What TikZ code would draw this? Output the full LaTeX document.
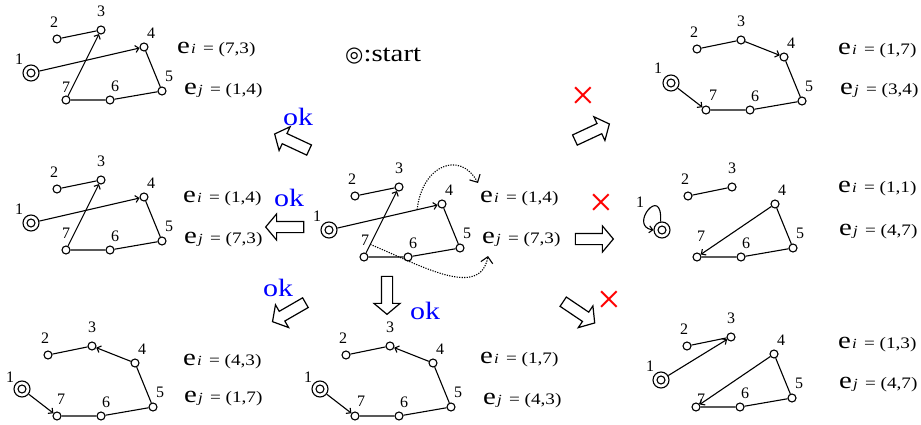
\documentclass[tikz,border=0pt]{standalone}
\usepackage{fontspec}
\usepackage{graphicx}
\setmainfont{Liberation Serif}
\newfontfamily\symfont{DejaVu Sans}
\usetikzlibrary{arrows.meta,shapes.arrows,calc}

\newcommand\wide[1]{\scalebox{1.2}[1]{#1}}

\tikzset{
 vert/.style={circle,draw,line width=1.1pt,minimum size=8pt,inner sep=0pt,fill=white},
 startnode/.style={circle,draw,line width=1.1pt,minimum size=16pt,inner sep=0pt,fill=white,
   path picture={\draw[line width=1.1pt] (path picture bounding box.center) circle (4pt);}},
 num/.style={font=\fontsize{16}{16}\selectfont,inner sep=0pt},
 edgeline/.style={line width=1.1pt},
 darrow/.style={line width=1.1pt,-{Straight Barb[length=3.5pt,width=7pt]}},
 eqtext/.style={anchor=base west,inner sep=0pt},
 okstyle/.style={text=blue,font=\fontsize{25}{25}\selectfont,inner sep=0pt},
 crossstyle/.style={text=red,font=\fontsize{42}{42}\selectfont,inner sep=0pt},
 bigarrow/.style={single arrow,draw,line width=1.2pt,inner xsep=0pt,inner ysep=5pt,
   minimum height=38pt,single arrow head extend=7.5pt,single arrow tip angle=100,
   text height=0pt,text depth=0pt,text width=0pt},
 dotcurve/.style={line width=1.1pt,dash pattern=on 1.2pt off 1.3pt,
   -{Straight Barb[length=6pt,width=12pt]}},
}

% #1,#2 position of node 1; #3 prefix; #4,#5 offset of label 7 from node 7; #6,#7 offset of label 1
\newcommand\graphpanel[7]{%
 \begin{scope}[shift={(#1,#2)}]
 \node[startnode] (#3-1) at (0,0) {};
 \node[vert] (#3-2) at (26,34) {};
 \node[vert] (#3-3) at (70,43) {};
 \node[vert] (#3-4) at (113,26) {};
 \node[vert] (#3-5) at (131,-18) {};
 \node[vert] (#3-6) at (79,-27) {};
 \node[vert] (#3-7) at (35,-27) {};
 \node[num] (#3-l1) at (#6,#7) {1};
 \node[num] (#3-l2) at (23,51) {2};
 \node[num] (#3-l3) at (70,62) {3};
 \node[num] (#3-l4) at (120,40) {4};
 \node[num] (#3-l5) at (138,-3) {5};
 \node[num] (#3-l6) at (84,-13) {6};
 \node[num] (#3-l7) at (35+#4,-27+#5) {7};
 \draw[edgeline] (#3-2) -- (#3-3) (#3-4) -- (#3-5) -- (#3-6) -- (#3-7);
 \end{scope}}

\newcommand\eqn[2]{\wide{{\fontsize{24}{24}\selectfont e}\kern1pt{\fontsize{14}{14}\selectfont\itshape #1}\hspace{6pt}{\fontsize{16}{16}\selectfont = #2}}}

\begin{document}
\begin{tikzpicture}[x=1pt,y=1pt]
\fill[white] (0,0) rectangle (921,-425);
\useasboundingbox (0,0) rectangle (921,-425);

% panels
\graphpanel{31}{-73}{A}{0}{13}{-12}{14}
\graphpanel{31}{-223}{B}{0}{17}{-12}{14}
\graphpanel{329}{-230}{C}{1}{17}{-12}{14}
\graphpanel{671}{-83}{D}{7}{15}{-13}{15}
\graphpanel{662}{-230}{E}{4}{21}{-22}{28}
\graphpanel{661}{-380}{F}{5}{8}{-11}{14}
\graphpanel{22}{-389}{G}{4}{17}{-12}{12}
\graphpanel{320}{-389}{H}{6}{15}{-12}{12}

% specific edges
\draw[darrow] (A-7) -- (A-3);
\draw[darrow] (A-1) -- (A-4);
\draw[darrow] (B-7) -- (B-3);
\draw[darrow] (B-1) -- (B-4);
\draw[darrow] (C-7) -- (C-3);
\draw[darrow] (C-1) -- (C-4);
\draw[darrow] (D-3) -- (D-4);
\draw[darrow] (D-1) -- (D-7);
\draw[darrow] (E-4) -- (E-7);
\draw[darrow] (E-1.100) .. controls (663,-183) and (628,-226) .. (E-1.west);
\draw[darrow] (F-1) -- (F-3);
\draw[darrow] (F-4) -- (F-7);
\draw[darrow] (G-4) -- (G-3);
\draw[darrow] (G-1) -- (G-7);
\draw[darrow] (H-4) -- (H-3);
\draw[darrow] (H-1) -- (H-7);

% dotted curves in centre panel
\coordinate (C-d1s) at ($(C-1)!0.78!(C-4)$);
\coordinate (C-d1e) at (478,-183);
\draw[dotcurve] (C-d1s) .. controls (422,-165) and (460,-150) .. (C-d1e);
\coordinate (C-d2s) at ($(C-7)!0.18!(C-3)$);
\coordinate (C-d2e) at (488,-256);
\draw[dotcurve] (C-d2s) .. controls (420,-265) and (480,-300) .. (C-d2e);

% equations
\node[eqtext] (A-ei) at (177,-54) {\eqn{i}{(7,3)}};
\node[eqtext] (A-ej) at (184,-95) {\eqn{j}{(1,4)}};
\node[eqtext] (B-ei) at (183,-202) {\eqn{i}{(1,4)}};
\node[eqtext] (B-ej) at (184,-243) {\eqn{j}{(7,3)}};
\node[eqtext] (C-ei) at (480,-202) {\eqn{i}{(1,4)}};
\node[eqtext] (C-ej) at (482,-243) {\eqn{j}{(7,3)}};
\node[eqtext] (D-ei) at (838,-55) {\eqn{i}{(1,7)}};
\node[eqtext] (D-ej) at (840,-95) {\eqn{j}{(3,4)}};
\node[eqtext] (E-ei) at (838,-193) {\eqn{i}{(1,1)}};
\node[eqtext] (E-ej) at (839,-235) {\eqn{j}{(4,7)}};
\node[eqtext] (F-ei) at (838,-348) {\eqn{i}{(1,3)}};
\node[eqtext] (F-ej) at (839,-388) {\eqn{j}{(4,7)}};
\node[eqtext] (G-ei) at (183,-365) {\eqn{i}{(4,3)}};
\node[eqtext] (G-ej) at (184,-402) {\eqn{j}{(1,7)}};
\node[eqtext] (H-ei) at (480,-363) {\eqn{i}{(1,7)}};
\node[eqtext] (H-ej) at (483,-404) {\eqn{j}{(4,3)}};

% legend
\node[anchor=base west,inner sep=0pt,font=\fontsize{24}{24}\selectfont] (legend) at (345,-62) {{\symfont\fontsize{21}{21}\selectfont ◎}\wide{:start}};

% big arrows
\node[bigarrow,rotate=155] (arrNW) at (294,-143) {};
\node[bigarrow,rotate=180] (arrW) at (287,-227) {};
\node[bigarrow,rotate=210] (arrSW) at (291,-311) {};
\node[bigarrow,rotate=270] (arrS) at (387,-293) {};
\node[bigarrow,rotate=25] (arrNE) at (590,-133) {};
\node[bigarrow,rotate=0] (arrE) at (592,-239) {};
\node[bigarrow,rotate=-34] (arrSE) at (577,-311) {};

% ok labels
\node[okstyle] (ok1) at (298,-117) {\wide{ok}};
\node[okstyle] (ok2) at (289,-198) {\wide{ok}};
\node[okstyle] (ok3) at (278,-288) {\wide{ok}};
\node[okstyle] (ok4) at (425,-311) {\wide{ok}};

% crosses
\node[crossstyle] (x1) at (583,-98) {×};
\node[crossstyle] (x2) at (601,-205) {×};
\node[crossstyle] (x3) at (609,-302) {×};
\end{tikzpicture}
\end{document}
